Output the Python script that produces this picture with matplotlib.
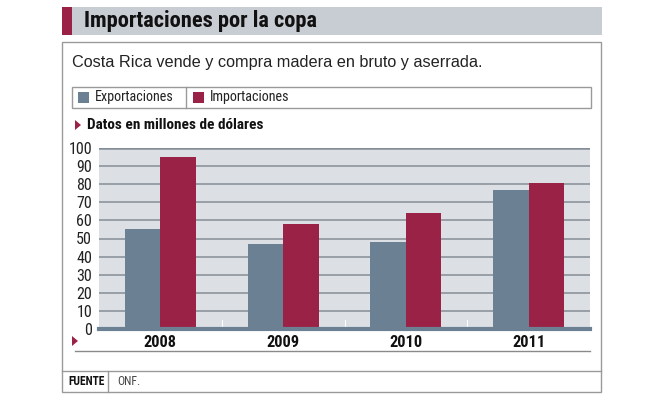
import matplotlib
matplotlib.use("Agg")
import matplotlib.pyplot as plt
from matplotlib import font_manager
from matplotlib.font_manager import FontProperties
from matplotlib.patches import Rectangle, Polygon
import numpy as np

years = ["2008", "2009", "2010", "2011"]
exportaciones = [55, 47, 48, 77]
importaciones = [95, 58, 64, 80.5]
y_ticks = [0, 10, 20, 30, 40, 50, 60, 70, 80, 90, 100]

title = "Importaciones por la copa"
subtitle = "Costa Rica vende y compra madera en bruto y aserrada."
unit_label = "Datos en millones de dólares"
source_label = "FUENTE"
source_text = "ONF."

# look for condensed faces
cands = []
for f in font_manager.fontManager.ttflist:
    fn = f.fname.lower()
    if ("condensed" in fn or "narrow" in fn or "condensed" in f.name.lower()
            or "narrow" in f.name.lower()) and "semicondensed" not in fn \
            and "extracondensed" not in fn and "italic" not in fn and "oblique" not in fn:
        cands.append(f)

def pick(bold):
    pref = ["robotocondensed", "liberationsansnarrow", "notosans-condensed",
            "opensans_condensed", "opensanscondensed", "opensans-condensed",
            "dejavusanscondensed"]
    for p in pref:
        matches = []
        for f in cands:
            base = f.fname.lower().replace(" ", "").split("/")[-1]
            if p in base:
                isb = "bold" in base and "semibold" not in base and "extrabold" not in base
                isreg = ("regular" in base) or (
                    "[" not in base and not any(k in base for k in
                    ["bold", "light", "thin", "medium", "black", "semi", "extra"]))
                if (bold and isb) or (not bold and isreg):
                    matches.append(f.fname)
        if matches:
            return sorted(matches, key=len)[0]
    return None

NB = pick(True)
NR = pick(False)
FP_NB = FontProperties(fname=NB) if NB else FontProperties(family="Liberation Sans", weight="bold")
FP_NR = FontProperties(fname=NR) if NR else FontProperties(family="Liberation Sans")
REG = "Liberation Sans"

SLATE = "#6b8093"
CRIMSON = "#9b2247"
PLOTBG = "#dcdfe4"
GRID = "#858d96"
BORDER = "#9a9a9a"

W, H = 653, 398
fig = plt.figure(figsize=(W / 100, H / 100), dpi=100)
fig.patch.set_facecolor("white")

def fx(px):
    return px / W

def fy(py):
    return 1 - py / H

def rect(x0, y0, x1, y1, **kw):
    r = Rectangle((fx(x0), fy(y1)), fx(x1) - fx(x0), fy(y0) - fy(y1),
                  transform=fig.transFigure, **kw)
    fig.add_artist(r)
    return r

def hline(x0, x1, y, color=BORDER, lw=1):
    fig.add_artist(plt.Line2D([fx(x0), fx(x1)], [fy(y), fy(y)],
                              transform=fig.transFigure, color=color, lw=lw))

def vline(x, y0, y1, color=BORDER, lw=1):
    fig.add_artist(plt.Line2D([fx(x), fx(x)], [fy(y0), fy(y1)],
                              transform=fig.transFigure, color=color, lw=lw))

def tri(x, y, s=5, color=CRIMSON):
    pts = [(fx(x), fy(y - s)), (fx(x), fy(y + s)), (fx(x + s * 1.2), fy(y))]
    fig.add_artist(Polygon(pts, closed=True, transform=fig.transFigure,
                           facecolor=color, edgecolor="none"))

def fp(base, size):
    p = base.copy()
    p.set_size(size)
    return p

# Title bar
rect(62, 7, 602, 35, facecolor="#c8ccd3", edgecolor="none")
rect(62, 7, 72, 35, facecolor=CRIMSON, edgecolor="none")
fig.text(fx(84), fy(21.5), title, fontproperties=fp(FP_NB, 16.2),
         color="#111111", va="center", ha="left")

# Main box
rect(62, 42, 601, 392, facecolor="none", edgecolor=BORDER, lw=1)
fig.text(fx(72), fy(63), subtitle, fontsize=11.7, family=REG,
         color="#222222", va="center", ha="left")

# Legend box
rect(72, 87, 591, 108, facecolor="none", edgecolor=BORDER, lw=1)
vline(186, 87, 108)
rect(78, 92, 89, 103, facecolor=SLATE, edgecolor="none")
fig.text(fx(95), fy(97.5), "Exportaciones", fontproperties=fp(FP_NR, 10.2),
         color="#222222", va="center", ha="left")
rect(193, 92, 204, 103, facecolor=CRIMSON, edgecolor="none")
fig.text(fx(210), fy(97.5), "Importaciones", fontproperties=fp(FP_NR, 10.2),
         color="#222222", va="center", ha="left")

# Unit label
tri(75, 125, s=5)
fig.text(fx(87), fy(125), unit_label, fontproperties=fp(FP_NB, 11),
         color="#111111", va="center", ha="left")

# Chart axes
ax = fig.add_axes([fx(99), fy(329), fx(590) - fx(99), fy(148) - fy(329)])
ax.set_facecolor(PLOTBG)
x = np.arange(len(years))
bw = 0.29
ax.bar(x - bw / 2, exportaciones, width=bw, color=SLATE, zorder=3)
ax.bar(x + bw / 2, importaciones, width=bw, color=CRIMSON, zorder=3)
ax.set_xlim(-0.5, len(years) - 0.5)
ax.set_ylim(0, 100)
ax.set_yticks(y_ticks)
ax.set_yticklabels([str(v) for v in y_ticks], fontproperties=fp(FP_NR, 11.5),
                   color="#222222")
for v in y_ticks[1:]:
    ax.axhline(v, color=GRID, lw=1.1, zorder=1)
ax.axhline(100, color=GRID, lw=1.8, zorder=1)
ax.axhline(0, color=SLATE, lw=3, zorder=4, clip_on=False)
for b in [0.5, 1.5, 2.5]:
    ax.plot([b, b], [0, 5], color="white", lw=0.8, zorder=2)
ax.set_xticks(x)
ax.set_xticklabels(years, fontproperties=fp(FP_NB, 11.8), color="#111111")
ax.tick_params(axis="both", length=0)
ax.tick_params(axis="y", pad=5)
ax.tick_params(axis="x", pad=4)
for s in ax.spines.values():
    s.set_visible(False)

# Below axis
tri(72, 341, s=5)
hline(75, 590, 351, color="#8a8a8a", lw=1)

# Footer
hline(62, 601, 371, color=BORDER, lw=1)
vline(108, 371, 392)
fig.text(fx(68), fy(381.5), source_label, fontproperties=fp(FP_NB, 8.3),
         color="#111111", va="center", ha="left")
fig.text(fx(117), fy(381.5), source_text, fontproperties=fp(FP_NR, 8.5),
         color="#444444", va="center", ha="left")

fig.savefig("out.png", dpi=100, facecolor="white")
